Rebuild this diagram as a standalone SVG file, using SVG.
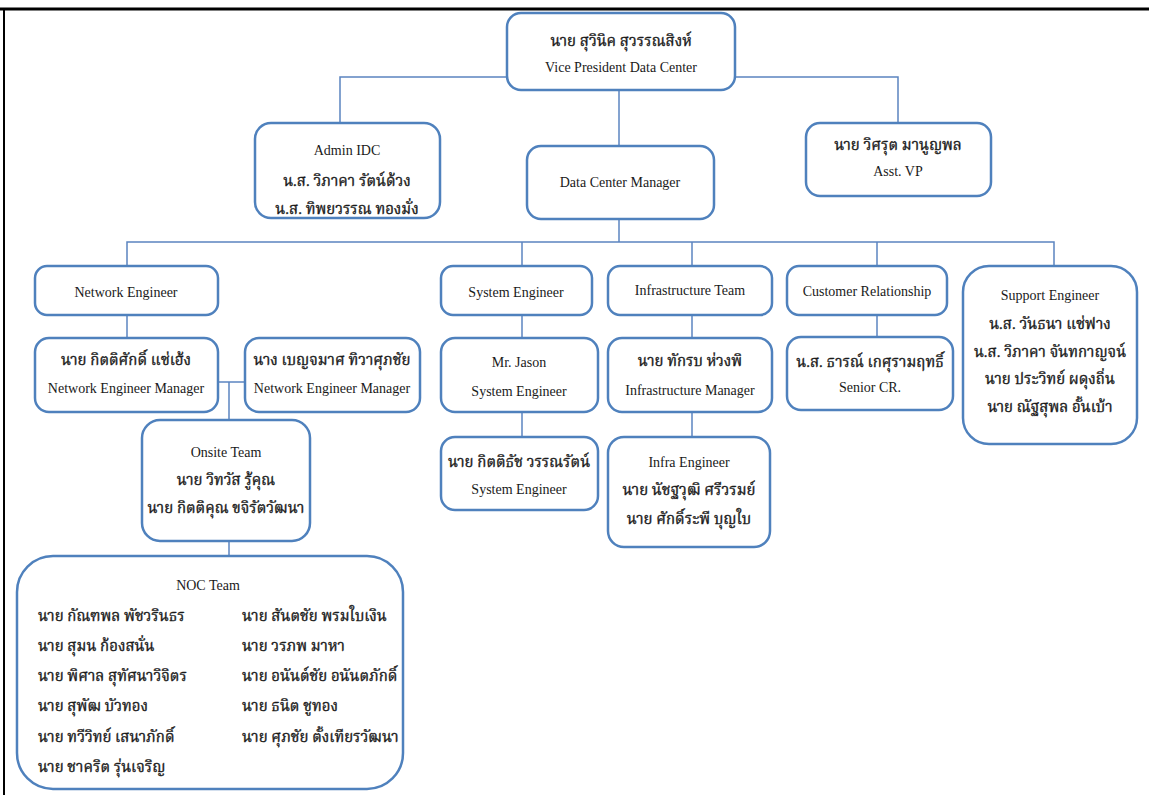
<svg xmlns="http://www.w3.org/2000/svg" width="1149" height="795" viewBox="0 0 1149 795">
<style>
.box{fill:#ffffff;stroke:#4f81bd;stroke-width:2.5}
.ln{fill:none;stroke:#5b84c0;stroke-width:1.5}
.frame{stroke:#000;fill:none}
text{font-family:"Liberation Serif","Noto Serif Thai","Noto Sans Thai","Garuda","Loma",serif;fill:#1a1a1a;text-anchor:middle}
.en{font-size:14px}
.th{font-size:15px;stroke:#1a1a1a;stroke-width:0.35}
.l{text-anchor:start}
</style>
<rect width="1149" height="795" fill="#fff"/>
<line class="frame" x1="0" y1="9" x2="1149" y2="9" stroke-width="3"/>
<line class="frame" x1="4" y1="9" x2="4" y2="795" stroke-width="2"/>
<g id="connectors">
<path class="ln" d="M340 122V77H898V122"/>
<path class="ln" d="M619 90V146"/>
<path class="ln" d="M619 219V242"/>
<path class="ln" d="M127 266V242H1054V266"/>
<path class="ln" d="M522 242V266"/>
<path class="ln" d="M692 242V266"/>
<path class="ln" d="M877 242V266"/>
<path class="ln" d="M127 315V338"/>
<path class="ln" d="M218 382H245"/>
<path class="ln" d="M229 382V420"/>
<path class="ln" d="M229 541V556"/>
<path class="ln" d="M522 315V338"/>
<path class="ln" d="M522 412V437"/>
<path class="ln" d="M692 315V338"/>
<path class="ln" d="M692 412V437"/>
<path class="ln" d="M877 315V337"/>
</g>
<g id="vp">
<rect class="box" x="507" y="13" width="228" height="77" rx="14"/>
<text class="th" x="621" y="46">นาย สุวินิค สุวรรณสิงห์</text>
<text class="en" x="621" y="72">Vice President Data Center</text>
</g>
<g id="admin">
<rect class="box" x="255" y="123" width="185" height="95" rx="16"/>
<text class="en" x="347" y="155">Admin IDC</text>
<text class="th" x="347" y="186">น.ส. วิภาคา รัตน์ด้วง</text>
<text class="th" x="347" y="214">น.ส. ทิพยวรรณ ทองมั่ง</text>
</g>
<g id="asstvp">
<rect class="box" x="806" y="123" width="185" height="73" rx="14"/>
<text class="th" x="898" y="150">นาย วิศรุต มานูญพล</text>
<text class="en" x="898" y="176">Asst. VP</text>
</g>
<g id="dcm">
<rect class="box" x="527" y="146" width="187" height="73" rx="14"/>
<text class="en" x="620" y="187">Data Center Manager</text>
</g>
<g id="neteng">
<rect class="box" x="35" y="266" width="183" height="49" rx="12"/>
<text class="en" x="126" y="297">Network Engineer</text>
</g>
<g id="netmgr1">
<rect class="box" x="35" y="338" width="183" height="74" rx="14"/>
<text class="th" x="126" y="365">นาย กิตติศักดิ์ แซ่เฮ้ง</text>
<text class="en" x="126" y="393">Network Engineer Manager</text>
</g>
<g id="netmgr2">
<rect class="box" x="245" y="338" width="175" height="74" rx="14"/>
<text class="th" x="332" y="365">นาง เบญจมาศ ทิวาศุภชัย</text>
<text class="en" x="332" y="393">Network Engineer Manager</text>
</g>
<g id="onsite">
<rect class="box" x="142" y="420" width="168" height="121" rx="18"/>
<text class="en" x="226" y="457">Onsite Team</text>
<text class="th" x="226" y="485">นาย วิทวัส รู้คุณ</text>
<text class="th" x="226" y="513">นาย กิตติคุณ ขจิรัตวัฒนา</text>
</g>
<g id="noc">
<rect class="box" x="17" y="556" width="386" height="233" rx="36"/>
<text class="en" x="208" y="590">NOC Team</text>
<text class="th l" x="38" y="621">นาย กัณฑพล พัชวรินธร</text>
<text class="th l" x="38" y="651">นาย สุมน ก้องสนั่น</text>
<text class="th l" x="38" y="681">นาย พิศาล สุทัศนาวิจิตร</text>
<text class="th l" x="38" y="711">นาย สุพัฒ บัวทอง</text>
<text class="th l" x="38" y="742">นาย ทวีวิทย์ เสนาภักดิ์</text>
<text class="th l" x="38" y="772">นาย ชาคริต รุ่นเจริญ</text>
<text class="th l" x="242" y="621">นาย สันตชัย พรมใบเงิน</text>
<text class="th l" x="242" y="651">นาย วรภพ มาหา</text>
<text class="th l" x="242" y="681">นาย อนันต์ชัย อนันตภักดิ์</text>
<text class="th l" x="242" y="711">นาย ธนิต ชูทอง</text>
<text class="th l" x="242" y="742">นาย ศุภชัย ตั้งเทียรวัฒนา</text>
</g>
<g id="syseng">
<rect class="box" x="441" y="266" width="151" height="49" rx="12"/>
<text class="en" x="516" y="297">System Engineer</text>
</g>
<g id="jason">
<rect class="box" x="441" y="338" width="157" height="74" rx="14"/>
<text class="en" x="519" y="367">Mr. Jason</text>
<text class="en" x="519" y="396">System Engineer</text>
</g>
<g id="kittitach">
<rect class="box" x="441" y="437" width="157" height="73" rx="14"/>
<text class="th" x="519" y="467">นาย กิตติธัช วรรณรัตน์</text>
<text class="en" x="519" y="494">System Engineer</text>
</g>
<g id="infrateam">
<rect class="box" x="608" y="266" width="164" height="49" rx="12"/>
<text class="en" x="690" y="295">Infrastructure Team</text>
</g>
<g id="inframgr">
<rect class="box" x="608" y="338" width="164" height="74" rx="14"/>
<text class="th" x="690" y="366">นาย ทักรบ ห่วงพิ</text>
<text class="en" x="690" y="395">Infrastructure Manager</text>
</g>
<g id="infraeng">
<rect class="box" x="608" y="437" width="162" height="110" rx="16"/>
<text class="en" x="689" y="467">Infra Engineer</text>
<text class="th" x="689" y="495">นาย นัชฐวุฒิ ศรีวรมย์</text>
<text class="th" x="689" y="524">นาย ศักดิ์ระพี บุญใบ</text>
</g>
<g id="custrel">
<rect class="box" x="787" y="266" width="160" height="49" rx="12"/>
<text class="en" x="867" y="296">Customer Relationship</text>
</g>
<g id="seniorcr">
<rect class="box" x="787" y="337" width="166" height="73" rx="14"/>
<text class="th" x="870" y="367">น.ส. ธารณ์ เกศุรามฤทธิ์</text>
<text class="en" x="870" y="392">Senior CR.</text>
</g>
<g id="support">
<rect class="box" x="963" y="266" width="174" height="178" rx="26"/>
<text class="en" x="1050" y="300">Support Engineer</text>
<text class="th" x="1050" y="329">น.ส. วันธนา แซ่ฟาง</text>
<text class="th" x="1050" y="357">น.ส. วิภาคา จันทกาญจน์</text>
<text class="th" x="1050" y="384">นาย ประวิทย์ ผดุงถิ่น</text>
<text class="th" x="1050" y="412">นาย ณัฐสุพล อั้นเบ้า</text>
</g>
</svg>
